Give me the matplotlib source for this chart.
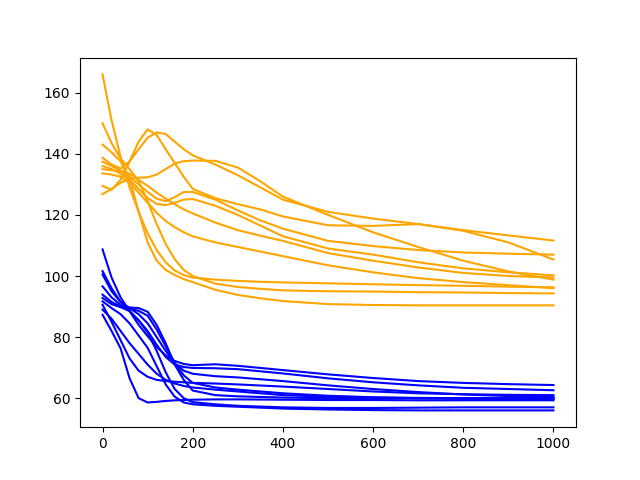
import matplotlib
matplotlib.use('Agg')
import matplotlib.pyplot as plt

x_hi = [0, 20, 40, 60, 80, 100, 120, 140, 160, 180, 200, 250, 300, 350, 400, 500, 600, 700, 800, 900, 1000]
orange_runs = [
    [138.7, 136.5, 135.2, 137.5, 141.5, 145.3, 147.0, 146.5, 144.0, 141.5, 139.5, 136.5, 133.0, 129.0, 125.0, 121.0, 118.8, 117.0, 115.0, 113.3, 111.6],
    [126.8, 128.5, 130.5, 131.8, 132.2, 132.3, 133.2, 135.0, 136.8, 137.6, 137.8, 137.7, 135.5, 131.0, 126.0, 120.0, 114.3, 109.5, 105.0, 101.5, 98.8],
    [129.5, 128.2, 131.5, 137.5, 144.0, 148.0, 146.2, 141.5, 137.0, 132.5, 128.5, 125.5, 123.5, 121.8, 119.5, 116.6, 116.4, 117.0, 114.8, 111.0, 105.4],
    [137.4, 136.0, 134.5, 132.5, 130.0, 127.5, 125.3, 124.5, 125.8, 127.5, 127.5, 125.0, 121.5, 118.2, 115.5, 111.5, 109.8, 108.5, 107.7, 107.3, 107.0],
    [136.0, 135.0, 133.5, 131.5, 128.5, 125.5, 123.6, 123.2, 124.0, 125.0, 125.2, 123.0, 120.0, 116.5, 113.0, 109.0, 107.0, 104.5, 102.5, 101.2, 100.2],
    [135.0, 134.6, 134.2, 133.5, 131.5, 129.5, 127.3, 125.3, 123.5, 121.8, 120.5, 117.5, 115.0, 113.2, 111.5, 107.5, 105.0, 102.8, 101.0, 100.0, 99.5],
    [133.6, 133.2, 132.5, 130.5, 127.3, 124.0, 120.7, 118.0, 116.0, 114.3, 113.0, 111.0, 109.5, 108.0, 106.5, 103.5, 101.2, 99.3, 98.0, 97.0, 96.0],
    [166.0, 151.0, 139.0, 129.0, 121.0, 114.0, 108.5, 104.5, 101.8, 100.3, 99.5, 98.8, 98.4, 98.1, 97.9, 97.6, 97.3, 97.0, 96.8, 96.5, 96.3],
    [150.0, 143.5, 138.5, 135.0, 131.0, 124.5, 117.0, 110.5, 105.5, 102.0, 100.0, 97.5, 96.4, 95.8, 95.3, 95.0, 94.9, 94.7, 94.6, 94.4, 94.3],
    [143.0, 140.5, 137.5, 132.0, 121.0, 111.0, 105.0, 102.0, 100.3, 99.0, 98.0, 95.5, 93.8, 92.7, 91.8, 90.8, 90.5, 90.4, 90.4, 90.4, 90.4],
]

x_lo = [0, 20, 40, 60, 80, 100, 120, 140, 160, 180, 200, 250, 300, 400, 500, 600, 700, 800, 900, 1000]
blue_runs = [
    [108.7, 99.5, 93.0, 88.5, 84.0, 80.3, 76.8, 74.0, 72.2, 71.2, 70.8, 71.1, 70.6, 69.2, 67.8, 66.6, 65.6, 65.0, 64.6, 64.3],
    [101.6, 96.0, 91.5, 88.5, 85.5, 82.0, 77.5, 73.5, 71.0, 70.2, 69.9, 69.8, 69.5, 68.1, 66.5, 65.2, 64.2, 63.4, 63.0, 62.6],
    [90.6, 85.0, 79.0, 73.0, 69.0, 67.0, 66.0, 65.6, 65.4, 65.2, 65.0, 64.8, 64.5, 63.8, 63.0, 62.2, 61.6, 61.3, 61.1, 61.0],
    [100.5, 95.0, 91.5, 89.5, 87.5, 84.5, 80.0, 75.5, 71.5, 69.0, 68.0, 67.2, 66.8, 65.6, 64.2, 63.0, 62.0, 61.2, 60.7, 60.4],
    [96.6, 93.0, 90.5, 89.3, 88.6, 87.0, 82.5, 77.0, 71.5, 67.5, 65.0, 63.5, 62.8, 61.6, 60.8, 60.3, 60.0, 59.8, 59.7, 59.7],
    [93.9, 91.5, 90.0, 89.7, 89.5, 88.3, 84.0, 78.0, 71.0, 66.0, 62.5, 61.0, 60.6, 60.2, 60.0, 60.0, 60.0, 60.0, 60.0, 60.0],
    [87.3, 82.0, 76.3, 66.5, 60.0, 58.6, 58.8, 59.1, 59.3, 59.4, 59.5, 59.6, 59.6, 59.5, 59.4, 59.4, 59.3, 59.3, 59.3, 59.3],
    [92.8, 90.8, 89.8, 88.5, 85.5, 81.5, 75.5, 68.5, 63.0, 60.0, 58.7, 58.0, 57.5, 57.0, 56.8, 56.8, 56.9, 57.0, 57.0, 57.0],
    [91.7, 89.5, 87.5, 84.5, 80.5, 76.5, 70.5, 64.5, 60.5, 58.6, 58.0, 57.5, 57.2, 56.6, 56.3, 56.1, 56.0, 56.0, 56.0, 56.0],
    [89.0, 86.0, 82.0, 78.0, 74.5, 71.0, 68.0, 66.0, 64.8, 64.0, 63.5, 62.8, 62.2, 61.0, 60.5, 60.2, 60.1, 60.0, 60.0, 60.0],
]

fig, ax = plt.subplots(figsize=(6.4, 4.8), dpi=100)
for run in orange_runs:
    ax.plot(x_hi, run, color='orange')
for run in blue_runs:
    ax.plot(x_lo, run, color='blue')

fig.savefig('out.png')
